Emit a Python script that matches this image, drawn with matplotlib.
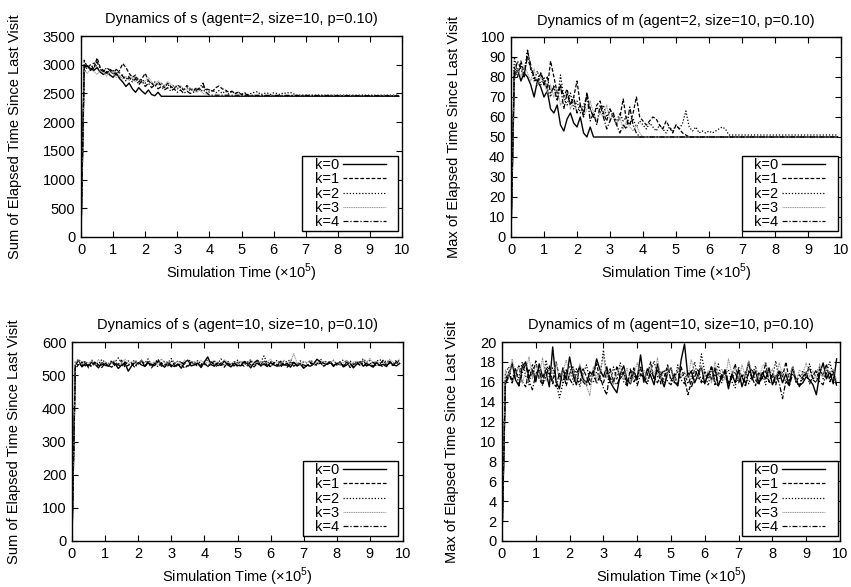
import numpy as np
import matplotlib
matplotlib.use("Agg")
import matplotlib.pyplot as plt

plt.rcParams['font.family'] = ['Liberation Sans', 'DejaVu Sans']
plt.rcParams['mathtext.fontset'] = 'custom'
plt.rcParams['mathtext.rm'] = 'Liberation Sans'

labels = ["k=0", "k=1", "k=2", "k=3", "k=4"]

# ---- time grid (x 10^5) ----
t_start = 0.0
t_end = 9.9
grid = [round(0.1 * i, 1) for i in range(1, 100)]

# ---- Panel 1: s, agent=2 (values until convergence, then final value) ----
s2_k0 = [2950, 2980, 2930, 2900, 2950, 2870, 2830, 2880, 2820, 2780, 2850, 2760, 2700, 2620, 2680,
         2580, 2520, 2600, 2540, 2490, 2560, 2480, 2460, 2520, 2450]
s2_k1 = [3080, 2950, 3000, 2920, 3120, 2950, 2900, 2850, 2920, 2880, 2820, 2900, 3020, 2950, 2850,
         2780, 2820, 2700, 2760, 2850, 2720, 2680, 2620, 2700, 2640, 2600, 2680, 2620, 2580, 2650,
         2600, 2560, 2640, 2580, 2540, 2600, 2560, 2620, 2580, 2560, 2540, 2600, 2630, 2580, 2560,
         2520, 2540, 2500, 2520, 2480, 2500, 2470, 2460]
s2_k2 = [2850, 2980, 2900, 3050, 2950, 2880, 2920, 2870, 2830, 2900, 2850, 2780, 2820, 2750, 2800,
         2730, 2780, 2700, 2750, 2680, 2720, 2660, 2700, 2640, 2680, 2620, 2660, 2600, 2640, 2580,
         2620, 2560, 2600, 2550, 2590, 2540, 2580, 2530, 2570, 2520, 2560, 2510, 2550, 2500, 2540,
         2490, 2530, 2500, 2520, 2490, 2510, 2480, 2500, 2520, 2530, 2480, 2500, 2510, 2480, 2510,
         2500, 2480, 2510, 2500, 2520, 2500, 2470]
s2_k3 = [2900, 2850, 2920, 2880, 2830, 2900, 2860, 2800, 2880, 2840, 2780, 2820, 2750, 2800, 2720,
         2780, 2700, 2760, 2680, 2720, 2780, 2700, 2650, 2720, 2680, 2640, 2700, 2660, 2620, 2600,
         2640, 2580, 2560, 2600, 2540, 2520, 2560, 2500, 2480, 2460]
s2_k4 = [3000, 2960, 2900, 2980, 3050, 2920, 2880, 2950, 2900, 2850, 2920, 2860, 2800, 2720, 2780,
         2700, 2760, 2650, 2720, 2620, 2680, 2600, 2650, 2580, 2620, 2560, 2600, 2540, 2580, 2520,
         2560, 2500, 2540, 2500, 2520, 2560, 2600, 2680, 2520, 2470]
s2_final = [2450, 2460, 2470, 2460, 2460]

# ---- Panel 2: m, agent=2 ----
m2_k0 = [80, 84, 78, 82, 80, 76, 70, 78, 75, 70, 73, 64, 62, 66, 56, 53, 59, 62, 57, 55, 60, 52, 50, 55, 50]
m2_k1 = [85, 80, 88, 82, 90, 84, 80, 76, 82, 78, 74, 88, 80, 72, 76, 70, 74, 66, 70, 78, 66, 62, 72, 64, 60,
         66, 68, 62, 58, 64, 60, 56, 60, 69, 58, 56, 62, 70, 60, 58, 56, 58, 60, 59, 56, 54, 58, 55, 52, 56,
         54, 52, 51, 50]
m2_k2 = [90, 82, 86, 80, 94, 84, 78, 83, 76, 80, 74, 70, 76, 68, 81, 70, 66, 72, 64, 68, 62, 66, 70, 64, 60,
         65, 62, 66, 60, 64, 60, 58, 62, 58, 60, 56, 59, 55, 58, 56, 54, 57, 55, 53, 56, 54, 52, 55, 53, 56,
         54, 57, 63, 55, 53, 55, 52, 53, 52, 53, 52, 53, 54, 55, 54, 51]
m2_k3 = [78, 84, 80, 86, 82, 78, 84, 76, 80, 77, 72, 76, 70, 74, 66, 70, 72, 64, 68, 62, 66, 60, 64, 68, 62,
         58, 62, 60, 66, 58, 62, 56, 60, 54, 58, 55, 53, 56, 52, 50]
m2_k4 = [82, 88, 84, 80, 93, 86, 80, 78, 82, 76, 80, 72, 75, 68, 76, 64, 72, 66, 70, 62, 66, 60, 72, 58, 62,
         56, 66, 60, 54, 58, 62, 56, 52, 56, 54, 65, 56, 52, 50]
m2_final = [50, 50, 51, 50, 50]

# ---- Panel 3: s, agent=10 ----
s10_k0 = [530, 545, 525, 535, 528, 540, 532, 522, 538, 530, 527, 541, 535, 520, 531, 536, 512, 528, 539, 533,
          545, 526, 538, 531, 529, 542, 533, 524, 537, 530, 526, 534, 521, 538, 545, 528, 531, 536, 523, 540,
          555, 532, 527, 538, 529, 543, 531, 525, 536, 530, 528, 541, 534, 522, 537, 545, 529, 533, 526, 538,
          531, 527, 542, 530, 536, 524, 539, 528, 533, 521, 530, 527, 534, 548, 540, 536, 532, 538, 529, 534,
          540, 525, 531, 537, 522, 533, 540, 527, 535, 530, 524, 538, 529, 533, 526, 540, 531, 528, 535]
s10_k1 = [520, 532, 540, 528, 534, 526, 538, 531, 523, 536, 529, 541, 527, 533, 545, 524, 530, 537, 528, 535,
          531, 526, 539, 522, 534, 548, 527, 532, 536, 525, 538, 530, 533, 521, 529, 540, 534, 527, 531, 538,
          526, 533, 542, 529, 535, 524, 537, 530, 528, 539, 533, 527, 541, 531, 525, 536, 529, 545, 532, 526,
          538, 531, 524, 535, 529, 540, 527, 533, 536, 522, 530, 537, 529, 534, 541, 527, 532, 538, 526, 531,
          535, 529, 540, 523, 532, 537, 530, 546, 528, 534, 527, 539, 531, 525, 536, 542, 529, 533, 548]
s10_k2 = [540, 548, 536, 542, 530, 545, 538, 533, 547, 539, 534, 544, 540, 552, 536, 531, 543, 538, 546, 535,
          541, 537, 549, 533, 540, 545, 536, 542, 538, 550, 535, 543, 539, 534, 547, 541, 536, 544, 533, 540,
          546, 538, 542, 535, 549, 537, 543, 531, 540, 545, 536, 542, 538, 547, 533, 544, 539, 558, 536, 541,
          538, 545, 534, 542, 540, 548, 536, 532, 543, 539, 537, 544, 540, 535, 549, 538, 542, 536, 545, 533,
          540, 546, 538, 543, 535, 541, 537, 550, 539, 544, 536, 542, 547, 538, 544, 540, 535, 545, 543]
s10_k3 = [538, 545, 532, 540, 536, 543, 530, 547, 535, 541, 533, 539, 544, 530, 536, 548, 534, 540, 538, 531,
          546, 537, 542, 535, 540, 533, 549, 538, 534, 543, 537, 541, 530, 546, 539, 535, 542, 538, 545, 531,
          540, 536, 544, 538, 533, 547, 539, 535, 541, 537, 543, 532, 540, 546, 535, 538, 542, 534, 539, 548,
          536, 541, 533, 545, 538, 540, 565, 537, 532, 542, 538, 545, 531, 540, 536, 543, 535, 539, 544, 533,
          540, 537, 546, 532, 539, 542, 536, 544, 538, 551, 535, 541, 537, 543, 534, 548, 539, 536, 550]
s10_k4 = [525, 535, 528, 540, 522, 533, 538, 527, 531, 536, 529, 524, 537, 531, 526, 540, 530, 534, 523, 538,
          532, 527, 541, 529, 535, 525, 537, 531, 528, 543, 530, 526, 538, 533, 524, 539, 531, 536, 528, 534,
          527, 540, 532, 525, 537, 531, 535, 529, 538, 526, 533, 539, 528, 542, 530, 536, 527, 534, 531, 525,
          538, 532, 529, 536, 524, 533, 540, 528, 535, 531, 526, 539, 532, 530, 537, 528, 534, 541, 529, 536,
          531, 527, 538, 533, 525, 540, 530, 536, 528, 534, 539, 527, 533, 545, 530, 536, 528, 541, 535]

# ---- Panel 4: m, agent=10 ----
m10_k0 = [15.8, 16.5, 17.9, 16.2, 15.6, 17.5, 18.0, 16.4, 17.2, 16.0, 17.8, 16.5, 17.0, 15.5, 19.5, 16.0, 15.3, 17.4, 16.2, 18.5,
          16.8, 15.7, 17.6, 16.3, 15.9, 17.0, 16.6, 18.3, 17.2, 16.5, 17.5, 16.0, 15.4, 14.9, 16.8, 17.6, 16.2, 15.8, 17.0, 16.3,
          18.7, 16.1, 17.3, 16.6, 15.7, 17.8, 16.4, 15.5, 16.9, 17.4, 16.0, 15.6, 18.2, 19.8, 16.5, 17.1, 15.9, 16.7, 17.5, 15.8,
          16.9, 16.2, 17.4, 15.6, 16.5, 17.0, 15.3, 16.8, 15.9, 17.2, 15.5, 16.6, 18.0, 16.2, 17.1, 15.8, 16.9, 16.3, 17.4, 15.7,
          16.4, 17.0, 15.9, 16.8, 15.6, 17.5, 16.1, 15.6, 15.9, 16.5, 16.2, 15.7, 14.7, 16.8, 17.9, 16.3, 17.0, 15.8, 18.3]
m10_k1 = [16.2, 17.0, 15.9, 16.8, 17.6, 16.0, 15.5, 17.2, 16.6, 18.1, 16.3, 15.7, 17.4, 16.9, 15.8, 18.0, 16.4, 17.1, 15.6, 16.8,
          17.5, 16.1, 15.9, 17.3, 16.5, 15.7, 16.9, 17.8, 16.2, 15.9, 17.0, 16.4, 15.8, 17.6, 16.3, 16.9, 15.5, 17.2, 16.0, 16.6,
          17.4, 15.9, 16.7, 18.0, 16.2, 17.3, 15.8, 16.5, 17.7, 16.1, 16.8, 15.6, 17.5, 16.3, 14.7, 16.0, 17.2, 16.6, 15.9, 17.0,
          16.4, 17.6, 15.7, 16.9, 16.2, 17.3, 15.9, 16.6, 17.8, 16.1, 16.7, 15.8, 17.1, 16.4, 15.6, 17.0, 16.3, 17.9, 16.0, 16.8,
          15.7, 17.2, 16.5, 18.0, 16.1, 17.5, 15.9, 16.7, 16.2, 16.9, 17.4, 16.2, 15.9, 17.3, 16.6, 17.8, 16.0, 17.1, 15.7]
m10_k2 = [16.8, 17.5, 15.9, 17.2, 16.4, 18.0, 16.6, 15.7, 17.8, 16.3, 17.1, 15.6, 18.2, 16.5, 17.4, 16.0, 14.4, 15.8, 16.9, 17.6,
          16.2, 17.3, 15.5, 16.8, 17.7, 16.1, 15.9, 17.0, 16.4, 19.2, 16.6, 15.8, 17.5, 16.2, 17.9, 16.0, 15.6, 17.3, 16.7, 16.1,
          17.6, 16.3, 15.9, 17.1, 18.1, 16.5, 17.0, 15.7, 17.4, 16.2, 15.9, 17.7, 16.4, 17.0, 15.8, 16.6, 18.0, 16.2, 18.8, 16.9,
          15.6, 17.3, 16.5, 17.8, 15.9, 16.8, 17.2, 16.0, 15.4, 17.5, 16.3, 17.0, 15.8, 16.7, 17.6, 16.1, 16.9, 15.7, 17.4, 16.4,
          18.1, 16.2, 17.0, 15.9, 16.8, 17.3, 16.0, 15.5, 17.1, 16.6, 17.8, 16.2, 16.9, 17.5, 16.3, 17.0, 18.0, 16.5, 15.9]
m10_k3 = [17.2, 16.4, 18.3, 16.8, 17.5, 15.9, 17.0, 18.5, 16.3, 17.7, 16.6, 18.4, 16.1, 17.3, 16.8, 17.9, 16.2, 17.0, 18.2, 16.5,
          17.4, 16.0, 17.8, 16.7, 15.6, 14.6, 17.5, 16.3, 17.1, 18.6, 16.4, 17.2, 15.8, 16.9, 17.6, 16.2, 17.4, 15.9, 16.7, 17.9,
          16.5, 17.2, 16.0, 17.7, 16.6, 18.4, 16.3, 17.1, 16.8, 17.5, 16.1, 17.3, 16.7, 17.0, 16.4, 18.2, 17.0, 16.3, 17.6, 16.5,
          17.1, 15.9, 18.0, 16.6, 17.3, 16.2, 18.3, 16.8, 17.4, 16.0, 17.7, 16.5, 18.1, 16.9, 17.2, 16.3, 17.5, 18.0, 16.6, 17.3,
          16.2, 17.9, 16.7, 17.0, 16.4, 17.6, 16.1, 17.2, 16.8, 17.9, 16.5, 17.1, 16.3, 17.8, 16.6, 17.4, 16.9, 17.3, 16.1]
m10_k4 = [15.9, 16.7, 16.2, 17.4, 15.6, 16.9, 17.8, 16.1, 15.2, 16.8, 17.3, 15.8, 16.5, 17.6, 16.0, 15.5, 16.9, 15.9, 17.2, 16.3,
          15.7, 16.8, 17.5, 16.0, 15.6, 16.4, 17.1, 15.8, 16.6, 15.4, 14.7, 17.3, 16.1, 15.7, 16.5, 17.0, 15.9, 16.3, 17.4, 15.6,
          16.8, 16.2, 15.8, 17.1, 16.4, 15.9, 16.7, 17.2, 16.0, 15.7, 16.6, 17.0, 16.2, 15.8, 16.9, 15.4, 16.5, 17.3, 16.1, 15.9,
          16.7, 17.5, 16.0, 15.6, 16.8, 17.2, 15.8, 16.4, 17.0, 15.9, 16.6, 15.5, 16.9, 17.3, 16.2, 15.7, 16.5, 17.1, 16.0, 15.8,
          16.7, 15.9, 14.3, 16.1, 15.6, 16.8, 16.3, 15.6, 16.5, 17.0, 15.8, 16.6, 17.2, 16.0, 15.7, 16.9, 16.4, 17.1, 15.6]

styles = [
    dict(color="black", linestyle="-", linewidth=1.0),
    dict(color="black", linestyle=(0, (3, 1.5)), linewidth=0.9),
    dict(color="black", linestyle=(0, (1, 1.5)), linewidth=0.9),
    dict(color="#999999", linestyle=(0, (1, 0.6)), linewidth=0.8),
    dict(color="black", linestyle=(0, (4, 1.5, 1, 1.5)), linewidth=0.9),
]

FS = 10.5

fig = plt.figure(figsize=(8.51, 5.87), dpi=100)
W, H = 851, 587


def add_ax(l, t, r, b):
    return fig.add_axes([l / W, 1 - b / H, (r - l) / W, (b - t) / H])


def style_ax(ax, title, ylabel, ymax, ystep, lpad):
    ax.set_xlim(0, 10)
    ax.set_ylim(0, ymax)
    ax.set_xticks(range(0, 11))
    ax.set_yticks(np.arange(0, ymax + ystep / 2, ystep))
    ax.tick_params(direction="in", length=4, width=0.8, top=True, right=True,
                   labelsize=FS, pad=4)
    for sp in ax.spines.values():
        sp.set_linewidth(1.0)
    ax.set_title(title, fontsize=FS, pad=9)
    ax.set_xlabel(r"Simulation Time ($\times$10$^5$)", fontsize=FS, labelpad=4)
    ax.set_ylabel(ylabel, fontsize=FS, labelpad=lpad)


def add_legend(ax, anchor_x, anchor_y):
    leg = ax.legend(loc="lower right", bbox_to_anchor=(anchor_x, anchor_y), markerfirst=False,
                    fontsize=FS, handlelength=2.95, handletextpad=0.3, labelspacing=0.02,
                    borderpad=0.05, borderaxespad=0, fancybox=False, framealpha=1,
                    edgecolor="black")
    frame = leg.get_frame()
    frame.set_linewidth(1.0)
    frame.set_boxstyle("square", pad=0.78)
    frame.set_mutation_aspect(0.08)


def conv_series(vals, final):
    x = [t_start] + grid[:len(vals)] + [t_end]
    y = [0] + vals + [final]
    return x, y


# Panel 1
ax1 = add_ax(81, 36, 402, 237)
for vals, fin, st, lab in zip([s2_k0, s2_k1, s2_k2, s2_k3, s2_k4], s2_final, styles, labels):
    x, y = conv_series(vals, fin)
    ax1.plot(x, y, label=lab, **st)
style_ax(ax1, "Dynamics of s (agent=2, size=10, p=0.10)", "Sum of Elapsed Time Since Last Visit", 3500, 500, 15)
add_legend(ax1, 0.953, 0.035)

# Panel 2
ax2 = add_ax(511, 37, 841, 237)
for vals, fin, st, lab in zip([m2_k0, m2_k1, m2_k2, m2_k3, m2_k4], m2_final, styles, labels):
    x, y = conv_series(vals, fin)
    ax2.plot(x, y, label=lab, **st)
style_ax(ax2, "Dynamics of m (agent=2, size=10, p=0.10)", "Max of Elapsed Time Since Last Visit", 100, 10, 14)
add_legend(ax2, 0.955, 0.035)

# Panel 3
ax3 = add_ax(72, 342, 403, 541)
for vals, st, lab in zip([s10_k0, s10_k1, s10_k2, s10_k3, s10_k4], styles, labels):
    ax3.plot([t_start] + grid, [0] + vals, label=lab, **st)
style_ax(ax3, "Dynamics of s (agent=10, size=10, p=0.10)", "Sum of Elapsed Time Since Last Visit", 600, 100, 15)
add_legend(ax3, 0.952, 0.03)

# Panel 4
ax4 = add_ax(502, 342, 840, 541)
for vals, st, lab in zip([m10_k0, m10_k1, m10_k2, m10_k3, m10_k4], styles, labels):
    ax4.plot([t_start] + grid, [0] + vals, label=lab, **st)
style_ax(ax4, "Dynamics of m (agent=10, size=10, p=0.10)", "Max of Elapsed Time Since Last Visit", 20, 2, 15)
add_legend(ax4, 0.959, 0.03)

fig.savefig("out.png", dpi=100)
